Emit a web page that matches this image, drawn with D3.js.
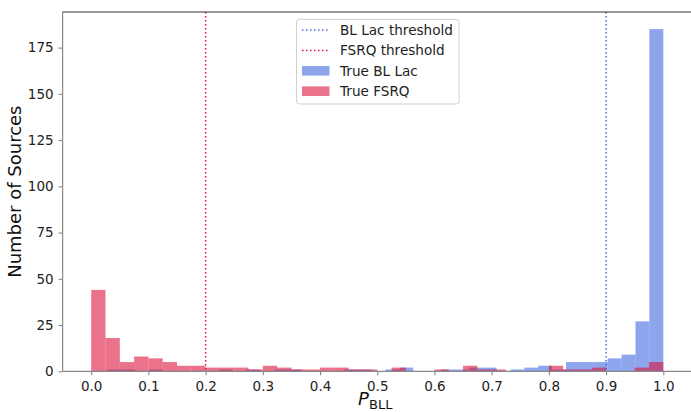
<!DOCTYPE html>
<html>
<head>
<meta charset="utf-8">
<script src="https://cdn.jsdelivr.net/npm/d3@7"></script>
<style>
  html, body { margin: 0; padding: 0; background: #fff; }
  svg { display: block; }
</style>
</head>
<body>
<svg id="chart" width="691" height="412"></svg>
<script>
// ---- data ----
const nBins = 40;
const fsrqRange = [0.0, 1.0];
const blLacRange = [0.0286, 1.0];
const fsrqCounts = [44,18,5,8,7,5,3,3,2,2, 2,1,3,2,1,1,2,2,1,1, 0,2,0,0,1,0,3,1,1,0, 0,0,3,1,1,2,0,0,2,5];
const blLacCounts = [1,1,0,1,0,0,0,0,1,0, 1,0,1,1,0,0,0,1,1,0, 1,2,0,0,1,1,2,2,0,1, 2,3,1,5,5,5,7,9,27,185];
const thresholds = [
  {label: "BL Lac threshold", value: 0.9, color: "#4169e1"},
  {label: "FSRQ threshold", value: 0.2, color: "#dc143c"}
];
const xTicks = [0.0,0.1,0.2,0.3,0.4,0.5,0.6,0.7,0.8,0.9,1.0];
const yTicks = [0,25,50,75,100,125,150,175];

(function () {
// ---- layout ----
const svg = d3.select("#chart");
const mL = 62.6, mR = 691.9, mT = 12, mB = 371.3;
const x = d3.scaleLinear().domain([-0.05, 1.05]).range([mL, mR]);
const y = d3.scaleLinear().domain([0, 194.25]).range([mB, mT]);
const font = "DejaVu Sans, sans-serif";

function bins(range, counts) {
  const w = (range[1] - range[0]) / nBins;
  return counts.map((c, i) => ({x0: range[0] + i * w, x1: range[0] + (i + 1) * w, c}));
}

const blColor = "#4169e1", fsColor = "#dc143c";

svg.append("g").selectAll("rect").data(bins(blLacRange, blLacCounts).filter(d => d.c > 0))
  .join("rect")
  .attr("x", d => x(d.x0)).attr("width", d => x(d.x1) - x(d.x0))
  .attr("y", d => y(d.c)).attr("height", d => y(0) - y(d.c))
  .attr("fill", blColor).attr("fill-opacity", 0.6);

svg.append("g").selectAll("rect").data(bins(fsrqRange, fsrqCounts).filter(d => d.c > 0))
  .join("rect")
  .attr("x", d => x(d.x0)).attr("width", d => x(d.x1) - x(d.x0))
  .attr("y", d => y(d.c)).attr("height", d => y(0) - y(d.c))
  .attr("fill", fsColor).attr("fill-opacity", 0.6);

// threshold lines
svg.append("g").selectAll("line").data(thresholds).join("line")
  .attr("x1", d => x(d.value)).attr("x2", d => x(d.value))
  .attr("y1", mT).attr("y2", mB)
  .attr("stroke", d => d.color).attr("stroke-width", 1.5)
  .attr("stroke-dasharray", "1.5,2.5");

// axes
const xAxis = svg.append("g").attr("transform", `translate(0,${mB})`)
  .call(d3.axisBottom(x).tickValues(xTicks).tickFormat(d3.format(".1f")).tickSizeOuter(0).tickSize(4));
const yAxis = svg.append("g").attr("transform", `translate(${mL},0)`)
  .call(d3.axisLeft(y).tickValues(yTicks).tickSizeOuter(0).tickSize(4));
[xAxis, yAxis].forEach(a => {
  a.select(".domain").attr("stroke", "#888").attr("stroke-width", 1.2);
  a.selectAll(".tick line").attr("stroke", "#888").attr("stroke-width", 1.1);
  a.selectAll(".tick text").attr("font-family", font).attr("font-size", 13.5).attr("fill", "#222");
});
xAxis.selectAll(".tick text").attr("dy", "0.95em");
yAxis.selectAll(".tick text").attr("dx", "-0.15em");
xAxis.select(".domain").attr("d", `M${mL},0H${mR}`);
yAxis.select(".domain").attr("d", `M0,${mB}V${mT}`);
// top spine
svg.append("line").attr("x1", mL).attr("x2", mR).attr("y1", mT).attr("y2", mT)
  .attr("stroke", "#333").attr("stroke-width", 1);

// axis labels
svg.append("text").attr("transform", `translate(21,${(mT + mB) / 2}) rotate(-90)`)
  .attr("text-anchor", "middle").attr("font-family", font).attr("font-size", 18).attr("fill", "#111")
  .text("Number of Sources");
const xl = svg.append("text").attr("x", (mL + mR) / 2 - 2).attr("y", 405)
  .attr("text-anchor", "middle").attr("font-family", font).attr("fill", "#111");
xl.append("tspan").attr("font-size", 18).attr("font-style", "italic").text("P");
xl.append("tspan").attr("font-size", 13).attr("dy", 3.5).text("BLL");

// legend
const lg = svg.append("g");
lg.append("rect").attr("x", 296.5).attr("y", 19.3).attr("width", 162.5).attr("height", 84.7)
  .attr("rx", 3).attr("fill", "#fff").attr("fill-opacity", 0.8)
  .attr("stroke", "#d0d0d0").attr("stroke-width", 1);
const items = [
  {label: thresholds[0].label, type: "line", color: thresholds[0].color},
  {label: thresholds[1].label, type: "line", color: thresholds[1].color},
  {label: "True BL Lac", type: "patch", color: blColor},
  {label: "True FSRQ", type: "patch", color: fsColor}
];
items.forEach((it, i) => {
  const cy = 30 + i * 20.4;
  if (it.type === "line") {
    lg.append("line").attr("x1", 302).attr("x2", 329.5).attr("y1", cy).attr("y2", cy)
      .attr("stroke", it.color).attr("stroke-width", 1.5).attr("stroke-dasharray", "1.5,2.5");
  } else {
    lg.append("rect").attr("x", 302).attr("y", cy - 4.8).attr("width", 27.5).attr("height", 9.6)
      .attr("fill", it.color).attr("fill-opacity", 0.6);
  }
  lg.append("text").attr("x", 340).attr("y", cy).attr("dy", "0.36em")
    .attr("font-family", font).attr("font-size", 13.6).attr("fill", "#222").text(it.label);
});
})();
</script>
</body>
</html>
